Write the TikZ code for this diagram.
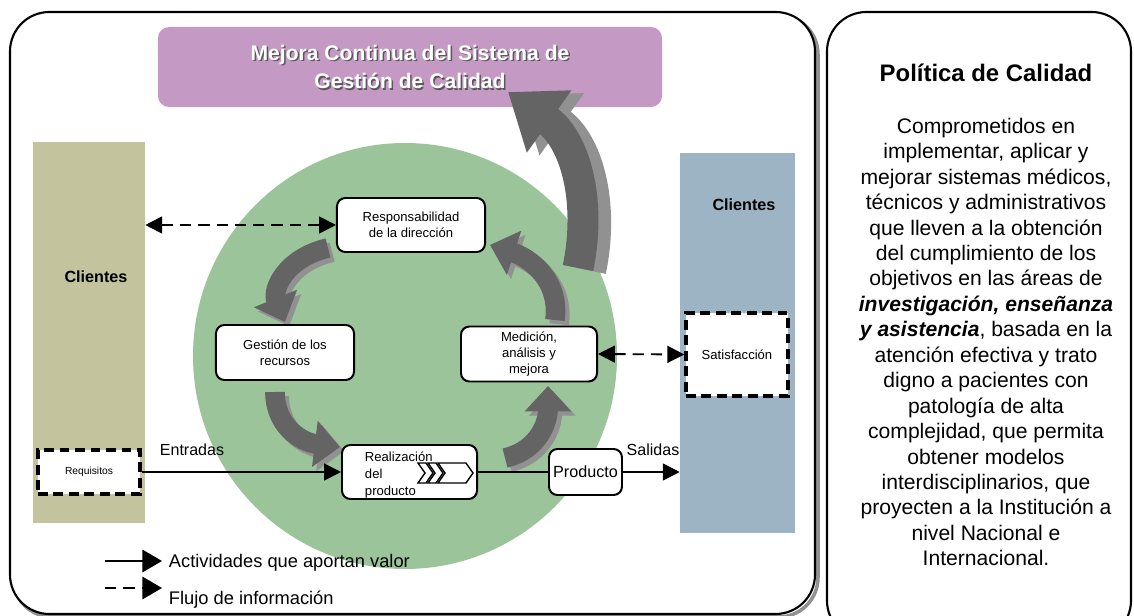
\documentclass[tikz,border=0pt]{standalone}
\usepackage{fontspec}
\setmainfont{Liberation Sans}
\usetikzlibrary{arrows.meta}

\definecolor{verde}{RGB}{155,196,155}
\definecolor{caqui}{RGB}{195,196,157}
\definecolor{azulgris}{RGB}{157,180,196}
\definecolor{morado}{RGB}{196,154,197}
\definecolor{grisosc}{RGB}{100,100,100}
\definecolor{grisclaro}{RGB}{145,145,145}

\begin{document}
\begin{tikzpicture}[
			x=0.025cm, y=-0.025cm,
			caja/.style={draw, line width=1.4pt, rounded corners=6pt, fill=white,
					align=center, inner sep=0pt, font=\fontsize{9.3}{11.5}\selectfont},
			punteada/.style={draw, line width=2.4pt, dash pattern=on 7pt off 4pt,
					fill=white, inner sep=0pt, font=\fontsize{9.3}{11.5}\selectfont},
			flujo/.style={line width=1.3pt, -{Triangle[length=12pt,width=12pt]}},
			info/.style={flujo, dash pattern=on 8pt off 5pt},
			doble/.style={line width=1.3pt, dash pattern=on 8pt off 5pt,
					{Triangle[length=12pt,width=12pt]}-{Triangle[length=12pt,width=12pt]}},
			giro/.style={draw=grisosc, line width=14pt, -{Triangle[length=18pt,width=32pt]}},
			lado/.style={giro, draw=grisclaro, xshift=3pt, yshift=-3pt},
			etiqueta/.style={font=\fontsize{11.4}{13}\selectfont}
		]
	\useasboundingbox (0,0) rectangle (1134,616);
	\clip (0,0) rectangle (1134,616);

	% marcos
	\draw[grisclaro, line width=2.5pt, rounded corners=28pt] (13,15) rectangle (818,617);
	\draw[line width=1.5pt, rounded corners=28pt, fill=white] (10,12) rectangle (815,614);
	\draw[line width=1.5pt, rounded corners=28pt, fill=white] (827,12) rectangle (1131,640);

	% clientes
	\node[fill=caqui, minimum width=2.8cm, minimum height=9.525cm, inner sep=0pt] (cliIzq) at (89,332.5) {};
	\node[fill=azulgris, minimum width=2.875cm, minimum height=9.5cm, inner sep=0pt] (cliDer) at (737.5,343) {};
	\node[font=\bfseries\fontsize{11.5}{13}\selectfont] (txtIzq) at (96,277) {Clientes};
	\node[font=\bfseries\fontsize{11.5}{13}\selectfont] (txtDer) at (744,205) {Clientes};

	% circulo
	\fill[verde] (405,356) ellipse (212 and 213);

	% mejora continua
	\node[fill=morado, rounded corners=8pt, minimum width=12.6cm, minimum height=2cm, inner sep=0pt] (mejora) at (410,67) {};
	\node[text=black!65, align=center, font=\bfseries\fontsize{15}{20}\selectfont] (mejoraSombra) at (411.5,68.5)
		{Mejora Continua del Sistema de\\Gestión de Calidad};
	\node[text=white, align=center, font=\bfseries\fontsize{15}{20}\selectfont] (mejoraTxt) at (410,67)
		{Mejora Continua del Sistema de\\Gestión de Calidad};

	% flechas del ciclo
	\draw[lado] (328,248) .. controls (285,258) and (272,290) .. (285,322);
	\draw[giro] (328,248) .. controls (285,258) and (272,290) .. (285,322);
	\draw[lado] (275,392) .. controls (275,425) and (300,442) .. (340,447);
	\draw[giro] (275,392) .. controls (275,425) and (300,442) .. (340,447);
	\draw[lado] (505,458) .. controls (540,450) and (548,420) .. (548,386);
	\draw[giro] (505,458) .. controls (540,450) and (548,420) .. (548,386);
	\draw[lado] (555,320) .. controls (560,280) and (530,258) .. (490,245);
	\draw[giro] (555,320) .. controls (560,280) and (530,258) .. (490,245);

	% flecha grande
	\draw[giro, draw=grisclaro, line width=22pt, xshift=9pt, yshift=-2pt,
		-{Triangle[length=36pt,width=52pt]}] (578,268) .. controls (592,200) and (575,140) .. (508,92);
	\draw[giro, line width=22pt, -{Triangle[length=36pt,width=52pt]}]
		(578,268) .. controls (592,200) and (575,140) .. (508,92);

	% procesos
	\node[caja, minimum width=3.7cm, minimum height=1.35cm] (resp) at (411,225) {Responsabilidad\\de la dirección};
	\node[caja, minimum width=3.45cm, minimum height=1.375cm] (gest) at (285,352.5) {Gestión de los\\recursos};
	\node[caja, minimum width=3.4cm, minimum height=1.375cm] (med) at (529,354) {Medición,\\análisis y\\mejora};
	\node[caja, minimum width=3.375cm, minimum height=1.35cm] (real) at (409.5,472) {};
	\node[caja, draw=none, fill=none, anchor=north west, align=left, font=\fontsize{9.3}{11.9}\selectfont]
		(realTxt) at (364,451) {Realización\\del\\producto};
	\draw[fill=white, line width=1pt] (418,463) -- (426,463) -- (433,473) -- (426,483) -- (418,483) -- (425,473) -- cycle;
	\draw[fill=white, line width=1pt] (428,463) -- (436,463) -- (443,473) -- (436,483) -- (428,483) -- (435,473) -- cycle;
	\draw[fill=white, line width=1pt] (438,463) -- (466,463) -- (473,473) -- (466,483) -- (438,483) -- (445,473) -- cycle;
	\node[caja, minimum width=1.825cm, minimum height=1.15cm, font=\fontsize{11.5}{13}\selectfont] (prod) at (585.5,472) {Producto};
	\node[punteada, minimum width=2.55cm, minimum height=1.1cm, font=\fontsize{7.3}{9}\selectfont] (req) at (89,472) {Requisitos};
	\node[punteada, minimum width=2.55cm, minimum height=2.075cm] (sat) at (737,354.5) {Satisfacción};

	% conectores
	\draw[doble] (resp.west -| cliIzq.east) -- (resp.west);
	\draw[doble] (med.east) -- (sat.west);
	\draw[flujo] (req.east) -- (real.west);
	\draw[line width=1.3pt] (real.east) -- (prod.west);
	\draw[flujo] (prod.east) -- (prod.east -| cliDer.west);
	\node[etiqueta] (entradas) at (192,450) {Entradas};
	\node[etiqueta] (salidas) at (653,450) {Salidas};

	% leyenda
	\coordinate (a1) at (105,561);
	\coordinate (b1) at (162,561);
	\coordinate (a2) at (105,588);
	\coordinate (b2) at (162,588);
	\draw[line width=1.3pt, -{Triangle[length=14pt,width=16pt]}] (a1) -- (b1);
	\draw[line width=1.3pt, dash pattern=on 8pt off 5pt, -{Triangle[length=14pt,width=16pt]}] (a2) -- (b2);
	\node[anchor=west, font=\fontsize{13}{15}\selectfont] (ley1) at (164,563) {Actividades que aportan valor};
	\node[anchor=west, font=\fontsize{13}{15}\selectfont] (ley2) at (164,600) {Flujo de información};

	% politica
	\node[font=\bfseries\fontsize{17}{20}\selectfont] (polTit) at (986,73) {Política de Calidad};
	\node[align=center, inner sep=0pt, font=\fontsize{15}{18.1}\selectfont] (polTxt) at (986,342) {%
		Comprometidos en\\
		implementar, aplicar y\\
		mejorar sistemas médicos,\\
		técnicos y administrativos\\
		que lleven a la obtención\\
		del cumplimiento de los\\
		objetivos en las áreas de\\
		\textbf{\textit{investigación, enseñanza}}\\
		\textbf{\textit{y asistencia}}, basada en la\\
		atención efectiva y trato\\
		digno a pacientes con\\
		patología de alta\\
		complejidad, que permita\\
		obtener modelos\\
		interdisciplinarios, que\\
		proyecten a la Institución a\\
		nivel Nacional e\\
		Internacional.};
\end{tikzpicture}
\end{document}
